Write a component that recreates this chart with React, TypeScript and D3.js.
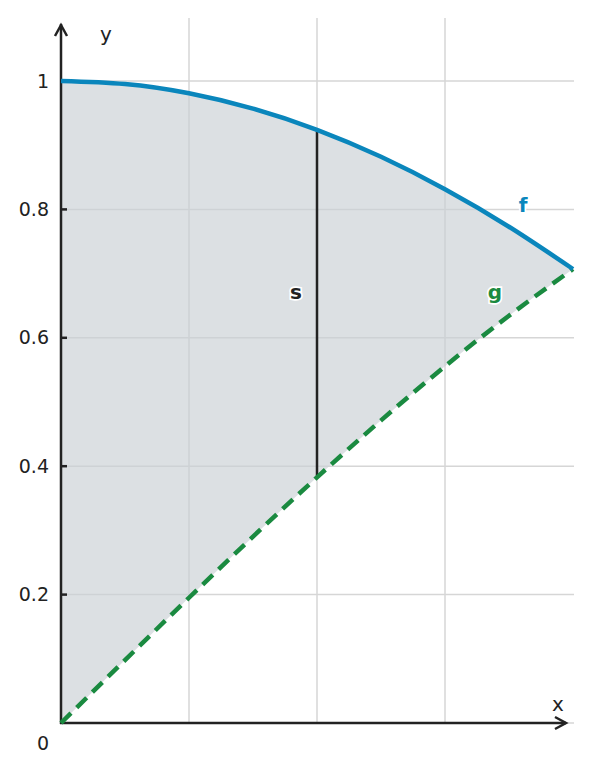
import { useEffect, useRef } from "react";
import { select, scaleLinear, line, area, curveNatural } from "d3";

// values (f on top, g dashed underneath)
const xValues = [0, 0.0982, 0.1963, 0.2945, 0.3927, 0.4909, 0.589, 0.6872, 0.7854];
const fValues = [1, 0.9952, 0.9808, 0.9569, 0.9239, 0.8819, 0.8315, 0.773, 0.7071];
const gValues = [0, 0.098, 0.1951, 0.2903, 0.3827, 0.4714, 0.5556, 0.6344, 0.7071];
const gridX = [0.19635, 0.3927, 0.58905];
const yTicks = [0.2, 0.4, 0.6, 0.8, 1];
const yTickLabels = ["0.2", "0.4", "0.6", "0.8", "1"];
const segmentX = 0.3927;
const segmentTop = 0.9239;
const segmentBottom = 0.3827;

const WIDTH = 591;
const HEIGHT = 772;
const F_COLOR = "#0a86bc";
const G_COLOR = "#1a8a40";
const INK = "#222222";
const FONT = "DejaVu Sans, sans-serif";

export default function App() {
  const svgRef = useRef<SVGSVGElement | null>(null);

  useEffect(() => {
    const svg = svgRef.current;
    if (!svg) return;
    select(svg).selectAll("*").remove();
    const root = select(svg);

    const x = scaleLinear().domain([0, 0.7854]).range([61, 573]);
    const y = scaleLinear().domain([0, 1]).range([723, 81]);
    const yTop = y(1.098);

    const pts = xValues.map((v, i) => ({ x: v, f: fValues[i], g: gValues[i] }));

    // grid
    const grid = root.append("g").attr("stroke", "#d6d6d6").attr("stroke-width", 1.5);
    gridX.forEach((v) => {
      grid.append("line").attr("x1", x(v)).attr("x2", x(v)).attr("y1", yTop).attr("y2", y(0));
    });
    yTicks.forEach((v) => {
      grid.append("line").attr("x1", x(0)).attr("x2", x(0.7854) + 1).attr("y1", y(v)).attr("y2", y(v));
    });
    grid.append("line").attr("x1", x(0)).attr("x2", x(0.7854) + 1).attr("y1", y(0)).attr("y2", y(0));

    // shaded region between f and g
    root
      .append("path")
      .datum(pts)
      .attr(
        "d",
        area<{ x: number; f: number; g: number }>()
          .x((d) => x(d.x))
          .y0((d) => y(d.g))
          .y1((d) => y(d.f))
          .curve(curveNatural)
      )
      .attr("fill", "#c9d0d4")
      .attr("fill-opacity", 0.65);

    // axes
    const axes = root.append("g").attr("stroke", INK).attr("stroke-width", 2.5).attr("fill", "none");
    axes.append("line").attr("x1", x(0)).attr("x2", x(0)).attr("y1", y(0) + 1).attr("y2", 24);
    axes.append("path").attr("d", `M${x(0) - 6},${36} L${x(0)},${25} L${x(0) + 6},${36}`);
    axes.append("line").attr("x1", x(0) - 1).attr("x2", 566).attr("y1", y(0)).attr("y2", y(0));
    axes.append("path").attr("d", `M${555},${y(0) - 6} L${566},${y(0)} L${555},${y(0) + 6}`);

    yTicks.slice(0, 4).forEach((v) => {
      axes.append("line").attr("x1", x(0)).attr("x2", x(0) + 6).attr("y1", y(v)).attr("y2", y(v));
    });

    // tick labels
    const labels = root.append("g").attr("font-family", FONT).attr("font-size", 19).attr("fill", INK);
    yTicks.forEach((v, i) => {
      labels
        .append("text")
        .attr("x", 49)
        .attr("y", y(v))
        .attr("dy", "0.35em")
        .attr("text-anchor", "end")
        .text(yTickLabels[i]);
    });
    labels.append("text").attr("x", 43).attr("y", 750).attr("text-anchor", "middle").text("0");
    labels.append("text").attr("x", 106).attr("y", 41).attr("text-anchor", "middle").attr("font-size", 20).text("y");
    labels.append("text").attr("x", 558).attr("y", 711).attr("text-anchor", "middle").attr("font-size", 20).text("x");

    // vertical segment s
    root
      .append("line")
      .attr("x1", x(segmentX))
      .attr("x2", x(segmentX))
      .attr("y1", y(segmentTop))
      .attr("y2", y(segmentBottom))
      .attr("stroke", INK)
      .attr("stroke-width", 2.5);

    // g dashed
    root
      .append("path")
      .datum(pts)
      .attr(
        "d",
        line<{ x: number; g: number }>()
          .x((d) => x(d.x))
          .y((d) => y(d.g))
          .curve(curveNatural)
      )
      .attr("fill", "none")
      .attr("stroke", G_COLOR)
      .attr("stroke-width", 4.5)
      .attr("stroke-dasharray", "14,8");

    // f curve
    root
      .append("path")
      .datum(pts)
      .attr(
        "d",
        line<{ x: number; f: number }>()
          .x((d) => x(d.x))
          .y((d) => y(d.f))
          .curve(curveNatural)
      )
      .attr("fill", "none")
      .attr("stroke", F_COLOR)
      .attr("stroke-width", 4.5);

    const tag = (tx: number, ty: number, txt: string, color: string) =>
      root
        .append("text")
        .attr("x", tx)
        .attr("y", ty)
        .attr("dy", "0.35em")
        .attr("text-anchor", "middle")
        .attr("font-family", FONT)
        .attr("font-size", 20)
        .attr("font-weight", "bold")
        .attr("fill", color)
        .attr("stroke", "white")
        .attr("stroke-width", 3.5)
        .attr("paint-order", "stroke")
        .text(txt);

    tag(523, 205, "f", F_COLOR);
    tag(495, 292, "g", G_COLOR);
    tag(296, 292, "s", INK);
  }, []);

  return (
    <svg
      ref={svgRef}
      width={WIDTH}
      height={HEIGHT}
      style={{ position: "absolute", left: 0, top: 0, background: "white" }}
    />
  );
}
